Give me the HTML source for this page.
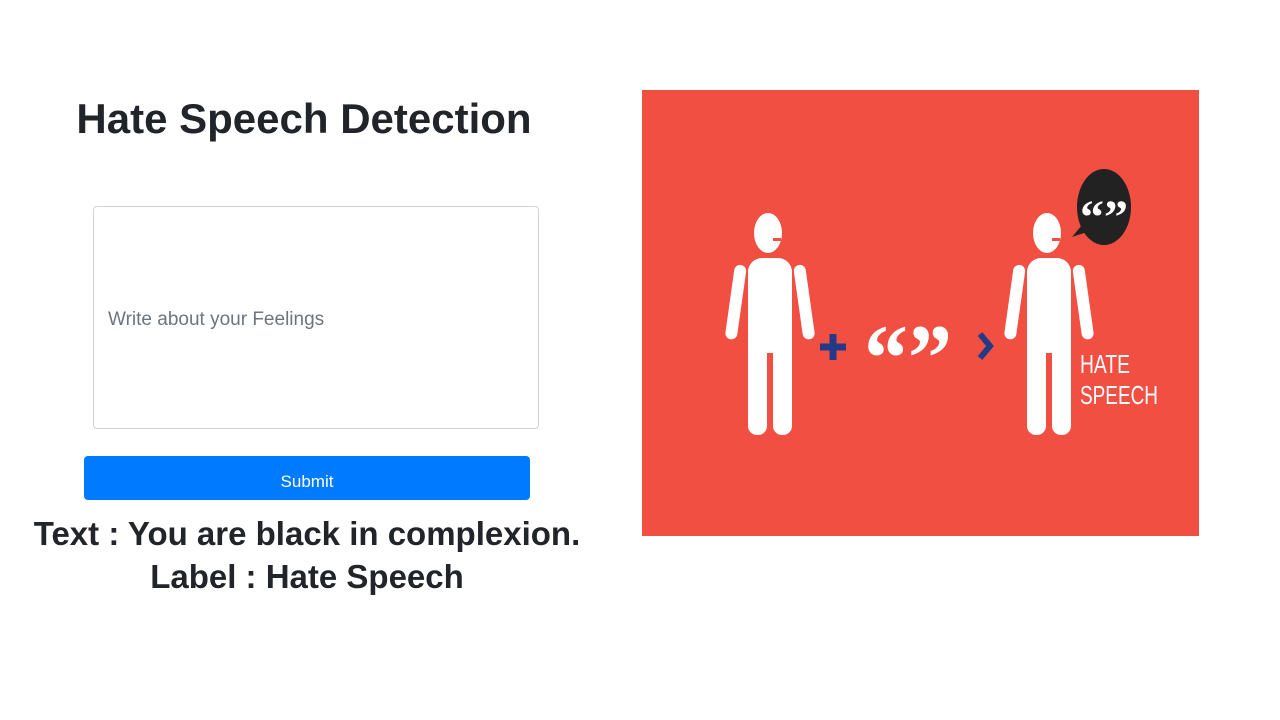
<!DOCTYPE html>
<html><head><meta charset="utf-8"><style>
body{margin:0;width:1280px;height:720px;background:#fff;font-family:"Liberation Sans",sans-serif;position:relative;overflow:hidden;color:#212529}
h1{position:absolute;left:0;width:608px;top:92px;margin:0;text-align:center;font-size:42px;font-weight:bold;line-height:54px}
.ta{position:absolute;left:93px;top:206px;width:444px;height:221px;border:1px solid #ced4da;border-radius:4px}
.ta span{position:absolute;left:14px;top:102px;font-size:19px;color:#6c757d}
.btn{position:absolute;left:84px;top:456px;width:446px;height:44px;background:#007bff;border-radius:4px;color:#fff;font-size:17px;text-align:center;line-height:52px}
.res{position:absolute;left:0;width:614px;top:512px;text-align:center;font-size:33px;font-weight:bold;line-height:43px}
</style></head><body>
<h1>Hate Speech Detection</h1>
<div class="ta"><span>Write about your Feelings</span></div>
<div class="btn">Submit</div>
<div class="res">Text : You are black in complexion.<br>Label : Hate Speech</div>
<svg style="position:absolute;left:642px;top:90px" width="557" height="446">
<rect width="557" height="446" fill="#f14f42"/>
<g fill="#fff">
 <ellipse cx="126" cy="143" rx="14" ry="20"/>
 <rect x="106" y="168" width="44" height="95" rx="14"/>
 <rect x="93" y="175" width="12" height="75" rx="6" transform="rotate(8 99 175)"/>
 <rect x="151" y="175" width="12" height="75" rx="6" transform="rotate(-8 157 175)"/>
 <rect x="106" y="230" width="19" height="115" rx="9"/>
 <rect x="131" y="230" width="19" height="115" rx="9"/>
 <ellipse cx="405" cy="143" rx="14" ry="20"/>
 <rect x="385" y="168" width="44" height="95" rx="14"/>
 <rect x="372" y="175" width="12" height="75" rx="6" transform="rotate(8 378 175)"/>
 <rect x="430" y="175" width="12" height="75" rx="6" transform="rotate(-8 436 175)"/>
 <rect x="385" y="230" width="19" height="115" rx="9"/>
 <rect x="410" y="230" width="19" height="115" rx="9"/>
</g>
<g fill="#f14f42"><rect x="131" y="148" width="8" height="3"/><rect x="410" y="148" width="8" height="3"/></g>
<path d="M178 257h26M191 244v26" stroke="#243a86" stroke-width="7"/>
<path d="M338 244l10 12-10 12" stroke="#243a86" stroke-width="6" fill="none"/>
<text x="222" y="300" font-family="Liberation Serif" font-weight="bold" font-size="95" fill="#fff" textLength="88" lengthAdjust="spacingAndGlyphs">“”</text>
<ellipse cx="462" cy="117" rx="27" ry="38" fill="#222"/>
<path d="M440 135l-10 12 18-6z" fill="#222"/>
<text x="462" y="143" text-anchor="middle" font-family="Liberation Serif" font-weight="bold" font-size="48" fill="#fff">“”</text>
<text x="438" y="283" font-family="Liberation Sans" font-size="26" fill="#fff" textLength="50" lengthAdjust="spacingAndGlyphs">HATE</text>
<text x="438" y="314" font-family="Liberation Sans" font-size="26" fill="#fff" textLength="78" lengthAdjust="spacingAndGlyphs">SPEECH</text>
</svg>
</body></html>
